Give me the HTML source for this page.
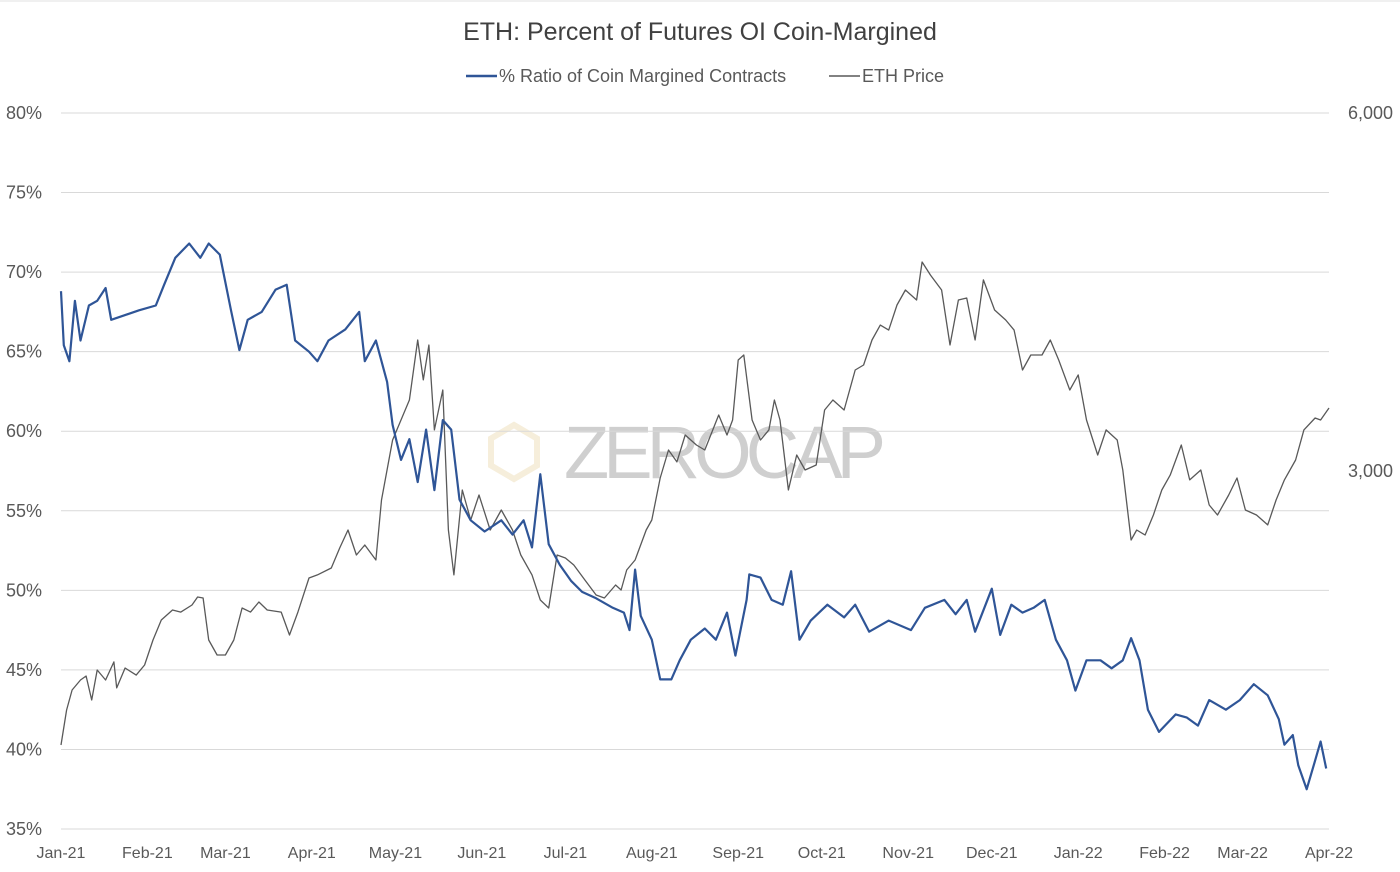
<!DOCTYPE html>
<html><head><meta charset="utf-8"><style>
html,body{margin:0;padding:0;background:#fff;}
svg{display:block;font-family:"Liberation Sans",sans-serif;}
</style></head><body>
<svg id="chart" width="1400" height="872" viewBox="0 0 1400 872" xmlns="http://www.w3.org/2000/svg">
<rect x="0" y="0" width="1400" height="872" fill="#fff"/>
<line x1="0" y1="1" x2="1400" y2="1" stroke="#e0e0e0" stroke-width="1"/>
<text x="700" y="40" text-anchor="middle" font-size="25" fill="#404040">ETH: Percent of Futures OI Coin-Margined</text>
<g>
<g>
<line x1="466" y1="76" x2="497" y2="76" stroke="#2f5597" stroke-width="2.5"/>
<text x="499" y="82" font-size="18" fill="#595959">% Ratio of Coin Margined Contracts</text></g>
<g>
<line x1="829" y1="76" x2="860" y2="76" stroke="#595959" stroke-width="1.5"/>
<text x="862" y="82" font-size="18" fill="#595959">ETH Price</text></g>
</g>
<g>
<polygon points="514,425 537,438.5 537,465.5 514,479 491,465.5 491,438.5" fill="none" stroke="#f6eedb" stroke-width="6"/>
<text x="564" y="478" font-size="74" fill="#cfcfcf" textLength="322">ZEROCAP</text>
</g>
<g id="grid"></g><g id="axes"></g><g id="series"></g>
</svg>
<script>
const monthLabels=["Jan-21","Feb-21","Mar-21","Apr-21","May-21","Jun-21","Jul-21","Aug-21","Sep-21","Oct-21","Nov-21","Dec-21","Jan-22","Feb-22","Mar-22","Apr-22"];
const monthDays=[0,31,59,90,120,151,181,212,243,273,304,334,365,396,424,455];
const leftTicks=[35,40,45,50,55,60,65,70,75,80];
const rightTicks=[3000,6000];
const ratioDays=[0,1,3,5,7,10,13,16,18,23,28,34,37,41,46,50,53,57,61,64,67,72,77,81,84,89,92,96,102,107,109,113,117,119,122,125,128,131,134,137,140,143,147,152,158,162,166,169,172,175,179,183,187,192,198,202,204,206,208,212,215,219,222,226,231,235,239,242,246,247,251,255,259,262,265,269,275,281,285,290,297,305,310,317,321,325,328,334,337,341,345,349,353,357,361,364,368,373,377,381,384,387,390,394,400,404,408,412,418,423,428,433,437,439,442,444,447,450,452,454];
const ratioValues=[68.8,65.4,64.4,68.2,65.7,67.9,68.2,69.0,67.0,67.3,67.6,67.9,69.2,70.9,71.8,70.9,71.8,71.1,67.6,65.1,67.0,67.5,68.9,69.2,65.7,65.0,64.4,65.7,66.4,67.5,64.4,65.7,63.1,60.4,58.2,59.5,56.8,60.1,56.3,60.7,60.1,55.7,54.4,53.7,54.4,53.5,54.4,52.7,57.3,52.9,51.6,50.6,49.9,49.5,48.9,48.6,47.5,51.3,48.4,46.9,44.4,44.4,45.6,46.9,47.6,46.9,48.6,45.9,49.4,51.0,50.8,49.4,49.1,51.2,46.9,48.1,49.1,48.3,49.1,47.4,48.1,47.5,48.9,49.4,48.5,49.4,47.4,50.1,47.2,49.1,48.6,48.9,49.4,46.9,45.6,43.7,45.6,45.6,45.1,45.6,47.0,45.6,42.5,41.1,42.2,42.0,41.5,43.1,42.5,43.1,44.1,43.4,41.9,40.3,40.9,39.0,37.5,39.3,40.5,38.8];
const priceDays=[0,2,4,7,9,11,13,16,19,20,23,27,30,33,36,40,43,47,49,51,53,56,59,62,65,68,71,74,79,82,85,89,92,97,100,103,106,109,113,115,119,122,125,128,130,132,134,137,139,141,144,147,150,154,158,162,165,169,172,175,178,181,184,188,192,195,199,201,203,206,210,212,215,218,221,224,228,231,236,239,241,243,245,248,251,254,256,258,261,264,267,271,274,277,281,285,288,291,294,297,300,303,307,309,312,316,319,322,325,328,331,335,339,342,345,348,352,355,358,362,365,368,372,375,379,381,384,386,389,392,395,398,402,405,409,412,415,419,422,425,429,433,436,439,443,446,450,452,455];
const priceValues=[704,997,1165,1249,1282,1081,1332,1249,1400,1182,1349,1290,1374,1584,1751,1835,1818,1877,1944,1936,1584,1458,1458,1584,1852,1818,1902,1835,1818,1626,1818,2103,2129,2187,2355,2506,2296,2380,2254,2757,3260,3427,3595,4098,3763,4056,3344,3679,2506,2129,2841,2589,2799,2506,2673,2506,2296,2129,1919,1852,2296,2271,2212,2087,1961,1936,2045,2003,2170,2254,2506,2589,2941,3176,3076,3302,3218,3176,3469,3302,3427,3930,3972,3427,3260,3344,3595,3427,2841,3134,3008,3050,3511,3595,3511,3846,3888,4098,4223,4181,4391,4517,4433,4751,4642,4517,4056,4433,4450,4098,4601,4349,4265,4181,3846,3972,3972,4098,3930,3679,3805,3427,3134,3344,3260,3008,2422,2506,2464,2631,2841,2966,3218,2925,3008,2715,2631,2799,2941,2673,2631,2548,2757,2925,3092,3344,3444,3427,3528];

const X0=61,X1=1329,YT=113,YB=829;
const xS=d=>X0+(d-0)/(455-0)*(X1-X0);
const yL=v=>YB-(v-35)/(80-35)*(YB-YT);
const yR=v=>YB-(v-0)/(6000-0)*(YB-YT);
const NS="http://www.w3.org/2000/svg";
function mk(tag,attrs,parent,txt){const e=document.createElementNS(NS,tag);for(const k in attrs)e.setAttribute(k,attrs[k]);if(txt!==undefined)e.textContent=txt;parent.appendChild(e);return e;}
const grid=document.getElementById('grid'),axes=document.getElementById('axes'),series=document.getElementById('series');
leftTicks.forEach(t=>{
  const g=mk('line',{x1:X0,x2:X1,y1:yL(t),y2:yL(t),stroke:'#d9d9d9','stroke-width':1},grid);
  
  
  const l=mk('text',{x:42,y:yL(t)+6,'text-anchor':'end','font-size':18,fill:'#595959'},axes,t+'%');
  
  
});
rightTicks.forEach(t=>{
  const l=mk('text',{x:1348,y:yR(t)+6,'font-size':18,fill:'#595959'},axes,t.toLocaleString('en-US'));
  
  
});
monthLabels.forEach((m,i)=>{
  const l=mk('text',{x:xS(monthDays[i]),y:858,'text-anchor':'middle','font-size':16,fill:'#595959'},axes,m);
  
  
});
const pPrice=priceDays.map((d,i)=>xS(d).toFixed(1)+','+yR(priceValues[i]).toFixed(1)).join(' ');
const lp=mk('polyline',{points:pPrice,fill:'none',stroke:'#595959','stroke-width':1.3,'stroke-linejoin':'round'},series);


const pRatio=ratioDays.map((d,i)=>xS(d).toFixed(1)+','+yL(ratioValues[i]).toFixed(1)).join(' ');
const lr=mk('polyline',{points:pRatio,fill:'none',stroke:'#2f5597','stroke-width':2.2,'stroke-linejoin':'round'},series);


</script>
</body></html>
